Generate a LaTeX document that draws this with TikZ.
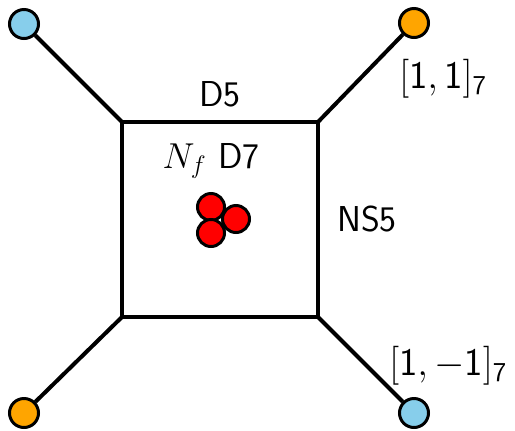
\documentclass[tikz,border=0pt]{standalone}
\usepackage{fix-cm}
\usepackage{amsmath}
\definecolor{skyb}{HTML}{87CEEB}
\definecolor{orng}{HTML}{FFA500}
\definecolor{redd}{HTML}{FF0000}
\begin{document}
\begin{tikzpicture}[x=0.5pt,y=-0.5pt,
  brane/.style={line width=2pt,line cap=butt},
  endpt/.style={circle,draw=black,line width=1.5pt,minimum size=14.5pt,inner sep=0pt},
  dseven/.style={circle,draw=black,line width=1.5pt,fill=redd,minimum size=13.5pt,inner sep=0pt},
  lbl/.style={font=\fontsize{18}{22}\selectfont\sffamily,inner sep=0pt},
  chg/.style={font=\fontsize{19.5}{23}\selectfont\sffamily,inner sep=0pt,anchor=west}]
\useasboundingbox (0,0) rectangle (515,430);
\coordinate (A) at (122,122);
\coordinate (B) at (318,122);
\coordinate (C) at (318,317);
\coordinate (D) at (122,317);
\draw[brane,line join=miter] (A) -- (B) -- (C) -- (D) -- cycle;
\node[endpt,fill=skyb] (tl) at (24,24) {};
\node[endpt,fill=orng] (tr) at (414,23) {};
\node[endpt,fill=orng] (bl) at (24,413) {};
\node[endpt,fill=skyb] (br) at (414,413) {};
\draw[brane] (A) -- (tl);
\draw[brane] (B) -- (tr);
\draw[brane] (D) -- (bl);
\draw[brane] (C) -- (br);
\node[dseven] (r1) at (211,207) {};
\node[dseven] (r3) at (211,233) {};
\node[dseven] (r2) at (236,219) {};
\node[lbl] (d5) at (220,94) {D5};
\node[lbl] (d7) at (211,161) {$N_f$ D7};
\node[lbl] (ns5) at (367,219) {NS5};
\node[chg] (l1) at (399,79) {$[\textsf{1},\textsf{1}]_{\textsf{7}}$};
\node[chg] (l2) at (389,366) {$[\textsf{1},-\textsf{1}]_{\textsf{7}}$};
\end{tikzpicture}
\end{document}
